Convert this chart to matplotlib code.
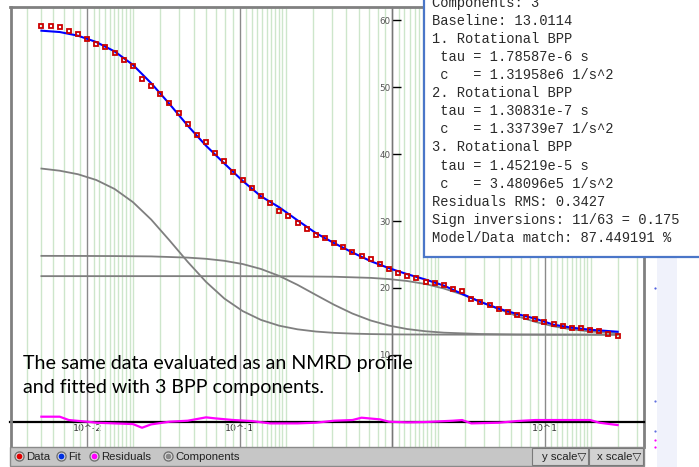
import matplotlib
matplotlib.use("Agg")
from matplotlib import pyplot as plt
from matplotlib.patches import Rectangle
from matplotlib.lines import Line2D
from matplotlib.ticker import FixedLocator, LogLocator, NullFormatter
import numpy as np

# field sweep of the NMRD profile (MHz), 64 log-spaced points
freq = np.geomspace(0.005, 30.0, 64)

# measured relaxation rates (1/s)
data_r1 = [59.2, 59.1, 58.95, 58.35, 57.9, 57.2, 56.5, 56.0, 55.1, 54.0,
           53.2, 51.2, 50.2, 49.0, 47.6, 46.1, 44.5, 42.9, 41.85, 40.1,
           39.0, 37.4, 36.1, 35.0, 33.8, 32.7, 31.5, 30.75, 29.65, 28.85,
           27.9, 27.4, 26.75, 26.07, 25.4, 24.8, 24.3, 23.5, 22.8, 22.2,
           21.85, 21.5, 20.9, 20.8, 20.5, 19.8, 19.6, 18.3, 17.9, 17.4,
           16.85, 16.45, 16.0, 15.6, 15.3, 14.95, 14.6, 14.3, 14.05, 13.95,
           13.75, 13.55, 13.1, 12.75]

# fitted model, read at every second data point
fit_idx = list(range(0, 64, 2)) + [63]
fit_r1 = [58.45, 58.25, 57.7, 56.75, 55.35, 53.35, 50.6, 47.5, 44.25, 41.25,
          38.6, 36.0, 33.7, 32.05, 30.1, 28.2, 26.7, 25.3, 24.0, 22.95,
          22.05, 21.25, 20.35, 19.1, 17.9, 16.9, 16.1, 15.4, 14.5, 14.05,
          13.75, 13.55, 13.45]

# components (baseline included)
comp3_idx = [0, 2, 4, 6, 8, 10, 12, 14, 16, 18, 20, 22, 24, 26, 28, 30, 32,
             34, 36, 38, 40, 44, 48, 52, 56, 60, 63]
comp3 = [37.84, 37.52, 36.99, 36.13, 34.79, 32.83, 30.22, 27.11, 23.89, 20.90,
         18.41, 16.54, 15.22, 14.35, 13.81, 13.48, 13.28, 13.17, 13.10, 13.06,
         13.04, 13.02, 13.01, 13.01, 13.01, 13.01, 13.01]
comp1_idx = [0, 4, 8, 12, 16, 18, 20, 22, 24, 26, 28, 30, 32, 34, 36, 38, 40,
             42, 44, 48, 52, 56, 60, 63]
comp1 = [24.79, 24.78, 24.76, 24.71, 24.53, 24.35, 24.05, 23.57, 22.83, 21.79,
         20.46, 18.96, 17.48, 16.17, 15.13, 14.37, 13.85, 13.52, 13.31, 13.11,
         13.04, 13.02, 13.01, 13.01]
comp2_idx = [0, 8, 16, 24, 28, 32, 36, 38, 40, 42, 44, 46, 48, 50, 52, 54,
             56, 58, 60, 63]
comp2 = [21.76, 21.76, 21.76, 21.75, 21.73, 21.67, 21.50, 21.32, 21.03, 20.58,
         19.91, 19.02, 17.95, 16.84, 15.78, 14.92, 14.26, 13.79, 13.49, 13.23]

# residuals (data - fit)
res_idx = [0, 2, 3, 5, 6, 10, 11, 12, 14, 16, 18, 19, 21, 23, 25, 28, 30, 32,
           34, 35, 37, 38, 40, 42, 45, 46, 47, 50, 52, 54, 60, 61, 63]
res = [0.75, 0.75, 0.25, 0.0, -0.15, -0.35, -0.9, -0.4, 0.0, 0.15, 0.65, 0.5,
       0.25, 0.1, -0.25, -0.25, -0.15, 0.15, 0.25, 0.6, 0.35, 0.0, -0.1, -0.05,
       0.15, 0.25, -0.25, -0.15, 0.1, 0.25, 0.25, -0.15, -0.5]

info_lines = ["Components: 3",
              "Baseline: 13.0114",
              "1. Rotational BPP",
              " tau = 1.78587e-6 s",
              " c   = 1.31958e6 1/s^2",
              "2. Rotational BPP",
              " tau = 1.30831e-7 s",
              " c   = 1.33739e7 1/s^2",
              "3. Rotational BPP",
              " tau = 1.45219e-5 s",
              " c   = 3.48096e5 1/s^2",
              "Residuals RMS: 0.3427",
              "Sign inversions: 11/63 = 0.175",
              "Model/Data match: 87.449191 %"]

W, H = 699, 467


def fx(px):
    return px / W


def fy(py):
    return 1 - py / H


fig = plt.figure(figsize=(W / 100, H / 100), dpi=100)
fig.patch.set_facecolor("white")

ax = fig.add_axes([fx(10), fy(447), 634 / W, 440 / H])
ax.set_xscale("log")
ax.set_xlim(10 ** -2.507, 10 ** 1.650)
ax.set_ylim(-3.78, 61.99)

# grid: green minor lines, grey decades
ax.xaxis.set_major_locator(FixedLocator([0.01, 0.1, 1, 10]))
ax.xaxis.set_minor_locator(LogLocator(base=10, subs=[1.1, 1.2, 1.3, 1.4, 1.5, 1.6, 1.7, 1.8, 1.9,
                                                     2, 3, 4, 5, 6, 7, 8, 9], numticks=60))
ax.xaxis.set_minor_formatter(NullFormatter())
ax.grid(which="minor", axis="x", color="#cde6cb", lw=1, zorder=0)
ax.grid(which="major", axis="x", color="#8a8a8a", lw=1, zorder=0)
ax.set_axisbelow(True)
ax.set_xticklabels(["10^-2", "10^-1", "", "10^1"])
for lab in ax.get_xticklabels():
    lab.set_horizontalalignment("left")
ax.tick_params(axis="x", which="both", length=0, pad=2, labelsize=6.8, labelcolor="#333")

# y axis sits on the 10^0 line
ax.spines["left"].set_position(("data", 1.0))
ax.spines["left"].set_color("#777777")
ax.spines["left"].set_linewidth(1)
ax.spines["bottom"].set_position(("data", 0))
ax.spines["bottom"].set_color("black")
ax.spines["bottom"].set_linewidth(1.6)
ax.spines["top"].set_color("#808080")
ax.spines["top"].set_linewidth(2)
ax.spines["right"].set_color("#808080")
ax.spines["right"].set_linewidth(2)
ax.set_yticks([10, 20, 30, 40, 50, 60])
ax.tick_params(axis="y", direction="in", length=6.5, width=1, color="black",
               labelsize=6.3, labelcolor="#555555", pad=1.5)

fr = np.array(freq)
for idx, vals in [(comp3_idx, comp3), (comp1_idx, comp1), (comp2_idx, comp2)]:
    ax.plot(fr[idx], vals, color="#7f7f7f", lw=1.3, zorder=2)
ax.plot(fr[fit_idx], fit_r1, color="#0000ff", lw=1.5, zorder=3)
ax.plot(fr, data_r1, ls="none", marker="s", ms=3.1, mfc="none", mec="#cc0000",
        mew=1.3, zorder=4)
ax.plot(fr[res_idx], res, color="#ff00ff", lw=1.6, zorder=5)

# left frame edge
fig.add_artist(Line2D([fx(10.5), fx(10.5)], [fy(7), fy(447)], color="#808080", lw=2,
                      transform=fig.transFigure))

# info panel
fig.add_artist(Rectangle((fx(424.5), fy(257)), 1.0, 0.6, transform=fig.transFigure,
                         facecolor="white", edgecolor="#4a76c8", lw=1.6, zorder=10))
for k, line in enumerate(info_lines):
    fig.text(fx(431.5), fy(2.6 + 18.1 * k), line, family="Liberation Mono", fontsize=9.9,
             color="#2a2a2a", va="center", ha="left", zorder=11)

# slide caption
fig.text(fx(23), fy(364), "The same data evaluated as an NMRD profile",
         family="Lato", fontsize=14.1, color="black", va="center", zorder=12)
fig.text(fx(23), fy(388), "and fitted with 3 BPP components.",
         family="Lato", fontsize=14.1, color="black", va="center", zorder=12)

# bottom tool bar
fig.add_artist(Rectangle((fx(10), fy(466)), 634 / W, 19 / H, transform=fig.transFigure,
                         facecolor="#c6c6c6", edgecolor="#8a8a8a", lw=1, zorder=10))
for px, col, name in [(19, "#e00000", "Data"), (61, "#0030e0", "Fit"),
                      (94, "#ff00ff", "Residuals"), (168, "#888888", "Components")]:
    fig.add_artist(Line2D([fx(px)], [fy(456)], marker="o", ms=6.5, mfc="#eeeeee", mec="#707070",
                          mew=1, transform=fig.transFigure, zorder=11))
    fig.add_artist(Line2D([fx(px)], [fy(456)], marker="o", ms=3.2, mfc=col, mec=col,
                          transform=fig.transFigure, zorder=12))
    fig.text(fx(px + 7.5), fy(456.5), name, family="Liberation Sans", fontsize=8.2,
             color="#222222", va="center", ha="left", zorder=12)
for x0, x1, name in [(532, 588, "y scale"), (589, 643, "x scale")]:
    fig.add_artist(Rectangle((fx(x0), fy(465)), (x1 - x0) / W, 17 / H, transform=fig.transFigure,
                             facecolor="#d2d2d2", edgecolor="#7a7a7a", lw=0.8, zorder=11))
    fig.text(fx(x1 - 2), fy(456.5), name + "\u25bd", family=["Liberation Sans", "DejaVu Sans"],
             fontsize=8.2, color="#222222", va="center", ha="right", zorder=12)

# faint slide decoration at the right
fig.add_artist(Rectangle((fx(657), 0), 20 / W, fy(250), transform=fig.transFigure,
                         facecolor="#f0f2fb", edgecolor="none", zorder=1))
for py, col in [(288, "#5060e0"), (401, "#6070e0"), (431, "#6070e0"), (440, "#ff00ff"),
                (447, "#ff00ff")]:
    fig.add_artist(Line2D([fx(655)], [fy(py)], marker="o", ms=1.6, mfc=col, mec="none",
                          transform=fig.transFigure, zorder=2))

fig.savefig("out.png", dpi=100)
plt.close(fig)
